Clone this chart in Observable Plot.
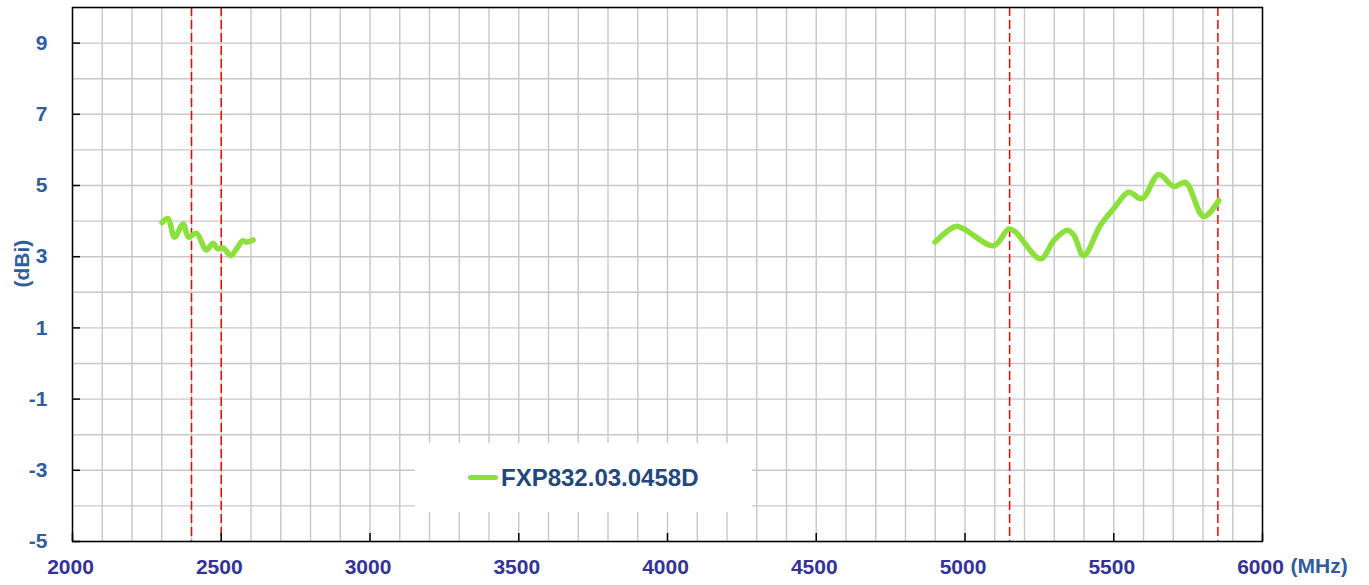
<!DOCTYPE html>
<html>
<head>
<meta charset="utf-8">
<script src="https://cdn.jsdelivr.net/npm/d3@7"></script>
<script src="https://cdn.jsdelivr.net/npm/@observablehq/plot@0.6"></script>
<style>
  html, body { margin: 0; padding: 0; background: #fff; }
  #wrap { position: relative; width: 1369px; height: 585px; font-family: "Liberation Sans", Arial, sans-serif; }
  #legend { position: absolute; left: 415px; top: 443px; width: 337px; height: 69px; background: #fff;
            display: flex; align-items: center; }
  #legend .sw { width: 30px; height: 5px; background: #8CE03A; border-radius: 3px; margin-left: 53px; margin-right: 3px; }
  #legend .lb { font-weight: bold; font-size: 24px; color: #1F497D; }
</style>
</head>
<body>
<div id="wrap">
  <div id="chart"></div>
  <div id="legend"><div class="sw"></div><div class="lb" id="legendText"></div></div>
</div>
<script>
const seriesName = "FXP832.03.0458D";
const xTicks = [2000, 2500, 3000, 3500, 4000, 4500, 5000, 5500, 6000];
const yTicks = [-5, -3, -1, 1, 3, 5, 7, 9];
const xGrid = d3.range(2000, 6001, 100);
const yGrid = d3.range(-5, 11, 1);
const markerFreqs = [2400, 2500, 5150, 5850];

const lowFreq = [2301, 2321, 2343, 2372, 2390, 2416, 2450, 2472, 2489, 2506, 2532, 2551, 2573, 2584, 2607];
const lowGain = [3.96, 4.07, 3.55, 3.92, 3.55, 3.66, 3.19, 3.38, 3.22, 3.25, 3.03, 3.22, 3.45, 3.41, 3.47];

const highFreq = [4899, 4968, 4996, 5097, 5147, 5170, 5254, 5299, 5344, 5366, 5399, 5455, 5500, 5550, 5595, 5651, 5702, 5741, 5802, 5853];
const highGain = [3.41, 3.85, 3.78, 3.31, 3.78, 3.69, 2.94, 3.46, 3.74, 3.60, 3.03, 3.88, 4.35, 4.81, 4.63, 5.31, 4.97, 5.09, 4.13, 4.58];

const low = lowFreq.map((f, i) => ({f, g: lowGain[i]}));
const high = highFreq.map((f, i) => ({f, g: highGain[i]}));

const font = "Liberation Sans, Arial, sans-serif";
const xColor = "#33339A";
const yColor = "#2F5D9E";

const W = 1369, H = 585, mL = 72, mR = 107, mT = 7, mB = 44;
const xDomain = [2000, 6000], yDomain = [-5, 10];
const tickLen = 8;
const xTickSpan = (xDomain[1] - xDomain[0]) * tickLen / (W - mL - mR);
const yTickSpan = (yDomain[1] - yDomain[0]) * tickLen / (H - mT - mB);

const chart = Plot.plot({
  width: W,
  height: H,
  marginLeft: mL,
  marginRight: mR,
  marginTop: mT,
  marginBottom: mB,
  style: { background: "white", fontFamily: font },
  x: { domain: xDomain, axis: null },
  y: { domain: yDomain, axis: null },
  marks: [
    Plot.ruleX(xGrid, { stroke: "#c8c8c8", strokeWidth: 1.4 }),
    Plot.ruleY(yGrid, { stroke: "#c8c8c8", strokeWidth: 1.4 }),
    Plot.ruleX(markerFreqs, { stroke: "#FF0000", strokeWidth: 1.5, strokeDasharray: "9,4" }),
    Plot.line(low, { x: "f", y: "g", stroke: "#8CE03A", strokeWidth: 5.5, curve: "catmull-rom", strokeLinecap: "round", strokeLinejoin: "round" }),
    Plot.line(high, { x: "f", y: "g", stroke: "#8CE03A", strokeWidth: 5.5, curve: "catmull-rom", strokeLinecap: "round", strokeLinejoin: "round" }),
    Plot.frame({ stroke: "#000", strokeWidth: 1.5 }),
    Plot.ruleY(yTicks, { y: d => d, x1: xDomain[0], x2: xDomain[0] + xTickSpan, stroke: "#000", strokeWidth: 1.5 }),
    Plot.ruleX(xTicks, { x: d => d, y1: yDomain[0], y2: yDomain[0] + yTickSpan, stroke: "#000", strokeWidth: 1.5 }),
    Plot.text(yTicks, { y: d => d, text: d => String(d), frameAnchor: "left", dx: -25, textAnchor: "end",
      fontSize: 21, fontWeight: "bold", fill: yColor }),
    Plot.text(xTicks, { x: d => d, text: d => String(d), frameAnchor: "bottom", dy: 26, dx: -2, lineAnchor: "middle",
      fontSize: 21, fontWeight: "bold", fill: xColor }),
    Plot.text(["(MHz)"], { x: [xDomain[1]], text: d => d, frameAnchor: "bottom", dx: 28, dy: 25, textAnchor: "start", lineAnchor: "middle",
      fontSize: 21, fontWeight: "bold", fill: yColor }),
    Plot.text(["(dBi)"], { text: d => d, frameAnchor: "left", dx: -50, dy: 13, rotate: -90, lineAnchor: "middle",
      fontSize: 21, fontWeight: "bold", fill: yColor })
  ]
});
document.getElementById("chart").appendChild(chart);
document.getElementById("legendText").textContent = seriesName;
</script>
</body>
</html>
